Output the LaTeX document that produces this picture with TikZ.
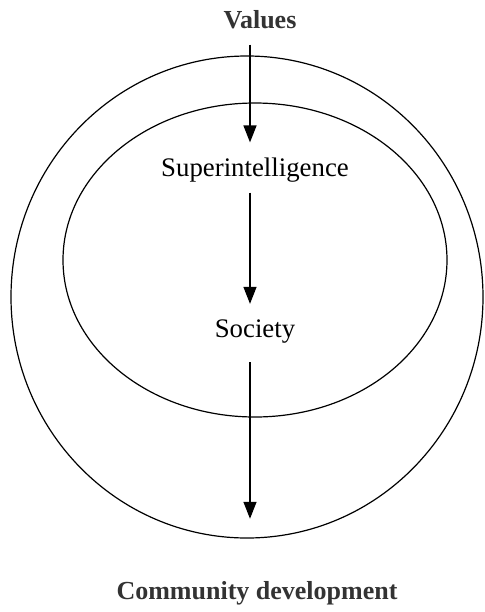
\documentclass[tikz,border=0pt]{standalone}
\usepackage{fontspec}
\setmainfont{Liberation Serif}
\usetikzlibrary{arrows.meta}

\begin{document}
\begin{tikzpicture}[x=0.5pt,y=-0.5pt,
	ring/.style={draw=black,line width=0.6pt},
	flow/.style={line width=0.7pt,-{Triangle[width=6.5pt,length=8.5pt]}},
	head/.style={inner sep=0pt,font=\fontsize{13}{15}\selectfont\bfseries,text=black!80},
	item/.style={inner sep=0pt,font=\fontsize{13.4}{15}\selectfont}]
	\useasboundingbox (0,0) rectangle (484,612);
	% rings
	\draw[ring] (247,297) ellipse [x radius=118pt,y radius=120.5pt];
	\draw[ring] (255,260) ellipse [x radius=96pt,y radius=78.5pt];
	% labels
	\node[head] (values) at (260,20) {Values};
	\node[item] (superint) at (255,170) {Superintelligence};
	\node[item] (society) at (255,332) {Society};
	\node[head] (community) at (257,593) {Community development};
	\coordinate (ax) at (250,0);
	% arrows
	\draw[flow,shorten <=7.5pt,shorten >=7.5pt] (values.south -| ax) -- (superint.north -| ax);
	\draw[flow,shorten <=5pt,shorten >=8pt] (superint.south -| ax) -- (society.north -| ax);
	\draw[flow,shorten <=9pt,shorten >=31pt] (society.south -| ax) -- (community.north -| ax);
\end{tikzpicture}
\end{document}
